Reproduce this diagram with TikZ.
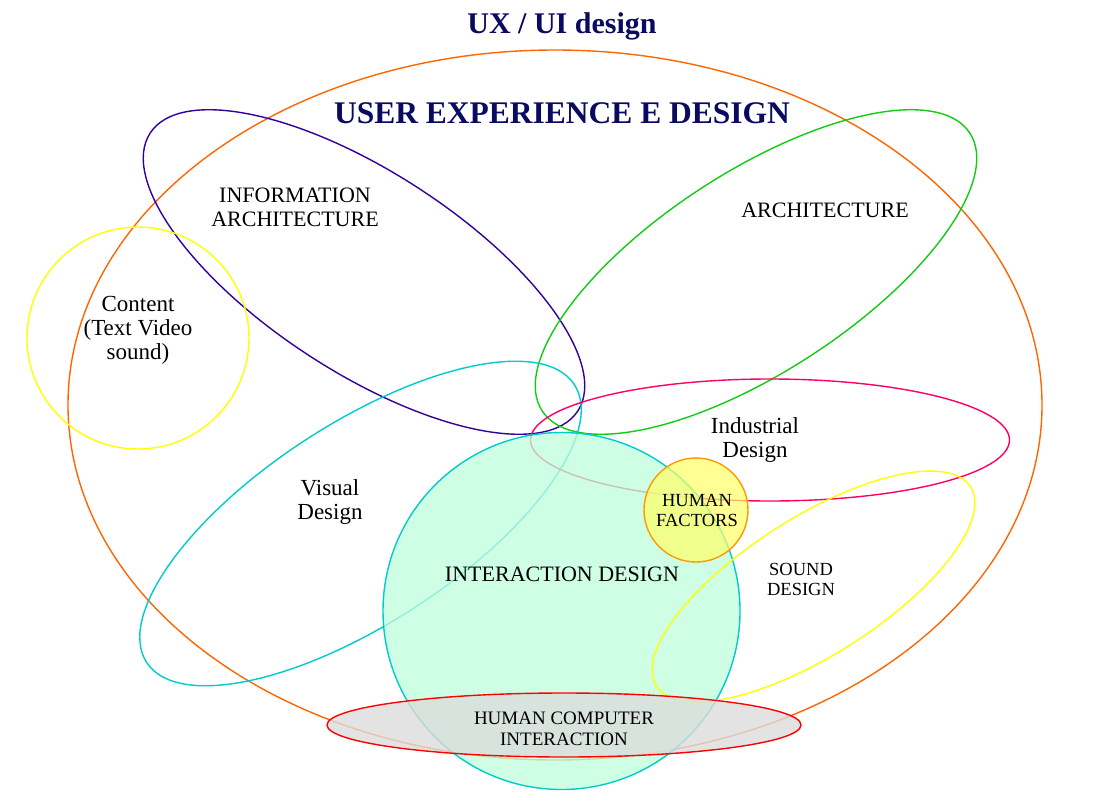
\documentclass[tikz,border=0pt]{standalone}
\usepackage{fontspec}
\setmainfont{Liberation Serif}
\usepackage{xcolor}
\usepackage{tikz}
\definecolor{uxorange}{HTML}{FF6600}
\definecolor{iapurple}{HTML}{330099}
\definecolor{archgreen}{HTML}{11CC11}
\definecolor{contyellow}{HTML}{FFFF00}
\definecolor{viscyan}{HTML}{00CCCC}
\definecolor{indpink}{HTML}{FF0066}
\definecolor{mint}{HTML}{BEFFDC}
\definecolor{hforange}{HTML}{FF9900}
\definecolor{hfyellow}{HTML}{FFFF66}
\definecolor{hcired}{HTML}{FF0000}
\definecolor{hcigray}{HTML}{DCDCDC}
\definecolor{titlenavy}{HTML}{0A0A60}

\begin{document}
\begin{tikzpicture}[x=1pt, y=-1pt,
ring/.style={line width=1.4pt},
lbl/.style={font=\fontsize{22}{24}\selectfont, align=center, inner sep=0pt},
smalllbl/.style={font=\fontsize{18.5}{20}\selectfont, align=center, inner sep=0pt},
ttl/.style={font=\fontsize{30}{34}\selectfont\bfseries, text=titlenavy, inner sep=0pt}]
\useasboundingbox (0,0) rectangle (1110,800);
\draw[ring, uxorange] (555,405) ellipse [x radius=487pt, y radius=355pt];
\draw[ring, iapurple, rotate around={-33:(364,272)}] (364,272) ellipse [x radius=255pt, y radius=100pt];
\draw[ring, archgreen, rotate around={33:(756,272)}] (756,272) ellipse [x radius=255pt, y radius=100pt];
\draw[ring, contyellow] (138,338) circle [radius=111pt];
\draw[ring, viscyan, rotate around={33:(360.5,523.5)}] (360.5,523.5) ellipse [x radius=255pt, y radius=100pt];
\draw[ring, indpink] (770,440) ellipse [x radius=239.5pt, y radius=61pt];
\draw[ring, viscyan, fill=mint, fill opacity=0.75] (561.5,611) circle [radius=178.5pt];
\draw[ring, contyellow, rotate around={32.4:(813.5,586.5)}] (813.5,586.5) ellipse [x radius=186pt, y radius=69pt];
\draw[ring, hforange, fill=hfyellow, fill opacity=0.7] (696,510) circle [radius=52pt];
\draw[ring, hcired, fill=hcigray, fill opacity=0.8] (564,725) ellipse [x radius=237pt, y radius=32pt];

\node[ttl] (uxui) at (562,26) {UX / UI design};
\node[ttl, font=\fontsize{31.5}{34}\selectfont\bfseries] (uxd) at (562,113) {USER EXPERIENCE E DESIGN};
\node[lbl] (infoarch) at (295,207) {INFORMATION\\ARCHITECTURE};
\node[lbl] (arch) at (825,210) {ARCHITECTURE};
\node[lbl, font=\fontsize{23}{24}\selectfont] (content) at (138,330) {Content\\(Text Video\\sound)};
\node[lbl, font=\fontsize{23}{24}\selectfont] (visual) at (330,502) {Visual\\Design};
\node[lbl, font=\fontsize{23}{24}\selectfont] (industrial) at (755,440) {Industrial\\Design};
\node[smalllbl] (humfac) at (697,510) {HUMAN\\FACTORS};
\node[smalllbl] (sound) at (801,579) {SOUND\\DESIGN};
\node[lbl] (interact) at (562,574) {INTERACTION DESIGN};
\node[smalllbl, font=\fontsize{19}{21}\selectfont] (hci) at (564,729) {HUMAN COMPUTER\\INTERACTION};
\end{tikzpicture}
\end{document}
